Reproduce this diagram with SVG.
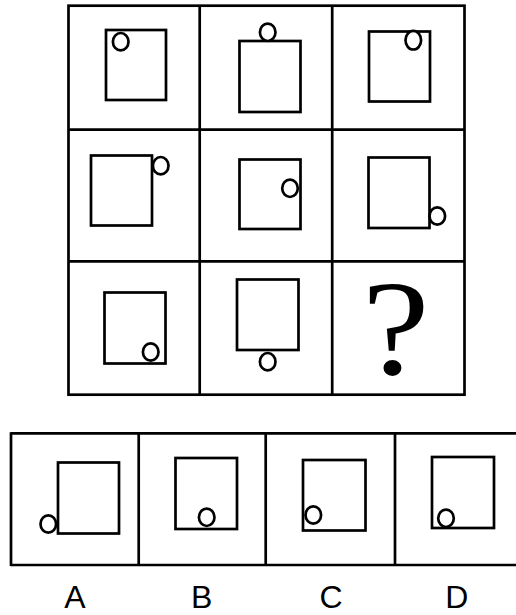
<svg xmlns="http://www.w3.org/2000/svg" width="516" height="615" viewBox="0 0 516 615">
<style>
.grid{fill:none;stroke:#000;stroke-width:2.7}
.sq{fill:none;stroke:#000;stroke-width:2.7}
.c{fill:#fff;stroke:#000;stroke-width:2.7}
.lbl{font-family:"Liberation Sans",Arial,sans-serif;font-size:32px;fill:#000;text-anchor:middle}
</style>
<rect width="516" height="615" fill="#fff"/>
<g id="grid">
<rect class="grid" x="68.5" y="5.7" width="396" height="389"/>
<line class="grid" x1="199.7" y1="5.7" x2="199.7" y2="394.7"/>
<line class="grid" x1="332.2" y1="5.7" x2="332.2" y2="394.7"/>
<line class="grid" x1="68.5" y1="129.7" x2="464.5" y2="129.7"/>
<line class="grid" x1="68.5" y1="261.3" x2="464.5" y2="261.3"/>
</g>
<g id="cell1"><rect class="sq" x="106" y="30" width="60" height="70"/><ellipse class="c" cx="120.7" cy="41.7" rx="7.8" ry="8.7"/></g>
<g id="cell2"><rect class="sq" x="239.5" y="41" width="61" height="71"/><ellipse class="c" cx="267.7" cy="32.3" rx="7.8" ry="8.7"/></g>
<g id="cell3"><rect class="sq" x="369" y="31.5" width="61" height="70"/><ellipse class="c" cx="413.3" cy="40.2" rx="7.8" ry="9.3"/></g>
<g id="cell4"><rect class="sq" x="91" y="155.5" width="61" height="70"/><ellipse class="c" cx="160.7" cy="165.7" rx="7.8" ry="8.7"/></g>
<g id="cell5"><rect class="sq" x="239.5" y="159.5" width="61" height="69.5"/><ellipse class="c" cx="290" cy="188.3" rx="7.8" ry="8.7"/></g>
<g id="cell6"><rect class="sq" x="368.5" y="157.5" width="61" height="70.5"/><ellipse class="c" cx="437.3" cy="216" rx="7.8" ry="8.7"/></g>
<g id="cell7"><rect class="sq" x="104.5" y="292.5" width="61" height="71"/><ellipse class="c" cx="150.7" cy="352" rx="7.8" ry="8.7"/></g>
<g id="cell8"><rect class="sq" x="237" y="279.5" width="61.5" height="70.5"/><ellipse class="c" cx="267.7" cy="361.7" rx="7.8" ry="8.7"/></g>
<g id="cell9"><text x="0" y="0" transform="translate(395.8 373.5) scale(1.12 1)" font-family="'Liberation Serif','Times New Roman',serif" font-size="136" text-anchor="middle">?</text></g>
<g id="options">
<line class="grid" x1="11" y1="433.3" x2="516" y2="433.3" stroke-width="2.3"/>
<line class="grid" x1="11" y1="565" x2="516" y2="565" stroke-width="2.3"/>
<line class="grid" x1="11" y1="432.2" x2="11" y2="566.1"/>
<line class="grid" x1="138.7" y1="433.3" x2="138.7" y2="565"/>
<line class="grid" x1="265.7" y1="433.3" x2="265.7" y2="565"/>
<line class="grid" x1="395" y1="433.3" x2="395" y2="565"/>
</g>
<g id="optA"><rect class="sq" x="58" y="462.5" width="61" height="71"/><ellipse class="c" cx="48.3" cy="524" rx="7.8" ry="8.7"/><text class="lbl" x="75" y="608">A</text></g>
<g id="optB"><rect class="sq" x="175.5" y="458" width="61.5" height="71"/><ellipse class="c" cx="206.7" cy="517.3" rx="7.8" ry="8.7"/><text class="lbl" x="201.7" y="608">B</text></g>
<g id="optC"><rect class="sq" x="303" y="460" width="62.5" height="70.5"/><ellipse class="c" cx="313.3" cy="515" rx="7.8" ry="8.7"/><text class="lbl" x="331" y="608">C</text></g>
<g id="optD"><rect class="sq" x="432" y="457" width="62" height="71"/><ellipse class="c" cx="446" cy="518.3" rx="7.8" ry="8.7"/><text class="lbl" x="456.7" y="608">D</text></g>
</svg>
